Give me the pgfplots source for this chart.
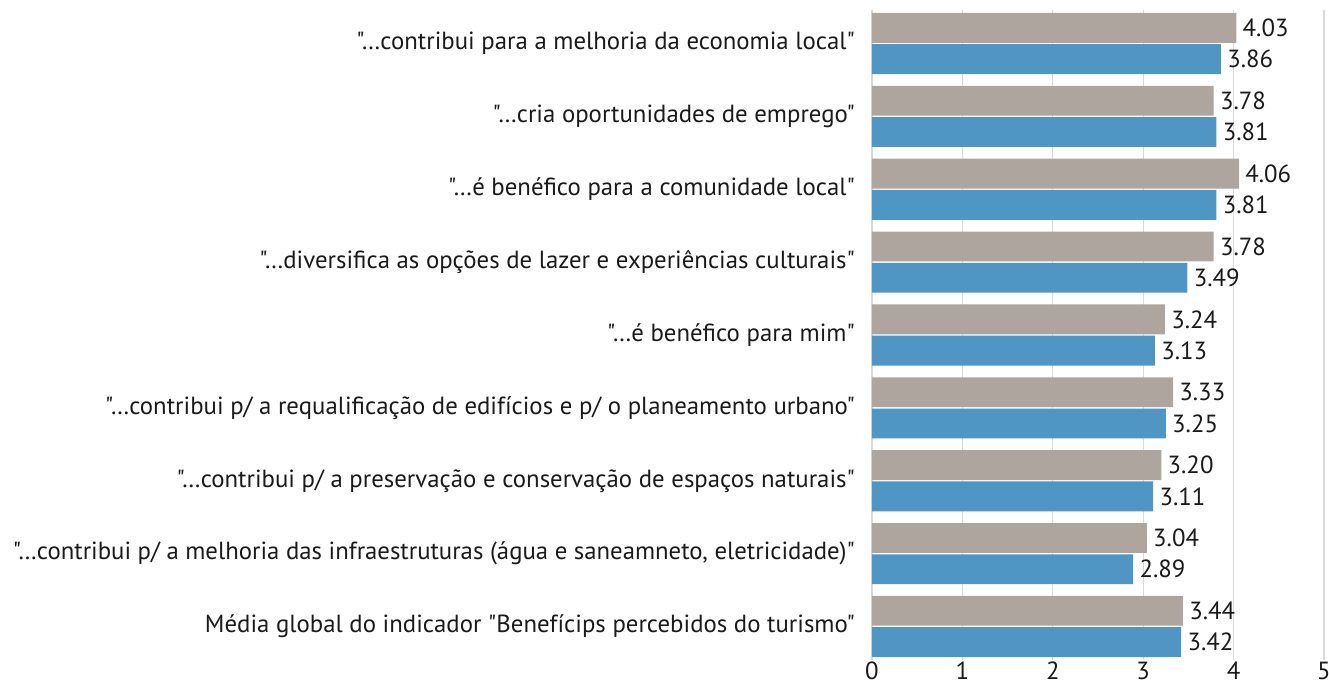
\documentclass[border=0pt]{standalone}
\usepackage{pgfplots}
\pgfplotsset{compat=1.18}
\usepackage{fontspec}
\setmainfont{PT Sans}[Ligatures=TeXOff]
\definecolor{bgrey}{HTML}{ADA59E}
\definecolor{bblue}{HTML}{4F96C5}
\definecolor{gridc}{HTML}{D9D9D9}
\definecolor{txt}{HTML}{1A1A1A}
\begin{document}
\begin{tikzpicture}
\begin{axis}[
  scale only axis,
  width=226pt, height=325pt,
  xmin=0, xmax=5,
  ymin=-0.46, ymax=8.46,
  y dir=reverse,
  xtick={0,1,2,3,4,5},
  ytick={0,1,2,3,4,5,6,7,8},
  yticklabels={
    {"…contribui para a melhoria da economia local"},
    {"…cria oportunidades de emprego"},
    {"…é benéfico para a comunidade local"},
    {"…diversifica as opções de lazer e experiências culturais"},
    {"…é benéfico para mim"},
    {"…contribui p/ a requalificação de edifícios e p/ o planeamento urbano"},
    {"…contribui p/ a preservação e conservação de espaços naturais"},
    {\resizebox{421pt}{!}{"…contribui p/ a melhoria das infraestruturas (água e saneamneto, eletricidade)"}},
    {Média global do indicador "Benefícips percebidos do turismo"}
  },
  axis line style={draw=none},
  major tick length=0pt,
  xmajorgrids, grid style={gridc, line width=0.6pt},
  tick label style={font=\fontsize{12.4}{14}\selectfont, text=txt},
  yticklabel style={xshift=-5pt},
  xticklabel style={yshift=2.5pt},
  /pgf/number format/assume math mode=true,
  clip=false,
  point meta=x,
  nodes near coords={\pgfmathprintnumber[fixed,fixed zerofill,precision=2]{\pgfplotspointmeta}},
  nodes near coords style={font=\fontsize{12.4}{14}\selectfont, text=txt, anchor=west, inner sep=1.5pt, xshift=1.5pt},
]
\addplot[xbar, bar width=0.41, bar shift=0, fill=bgrey, draw=none] coordinates {
  (4.03,-0.215) (3.78,0.785) (4.06,1.785) (3.78,2.785) (3.24,3.785) (3.33,4.785) (3.20,5.785) (3.04,6.785) (3.44,7.785)};
\addplot[xbar, bar width=0.41, bar shift=0, fill=bblue, draw=none] coordinates {
  (3.86,0.215) (3.81,1.215) (3.81,2.215) (3.49,3.215) (3.13,4.215) (3.25,5.215) (3.11,6.215) (2.89,7.215) (3.42,8.215)};
\coordinate (ll) at (rel axis cs:0,0);
\coordinate (ur) at (rel axis cs:1,1);
\end{axis}
\pgfresetboundingbox
\path ([xshift=-436pt,yshift=-14pt]ll) rectangle ([xshift=2.5pt,yshift=5pt]ur);
\end{tikzpicture}
\end{document}
